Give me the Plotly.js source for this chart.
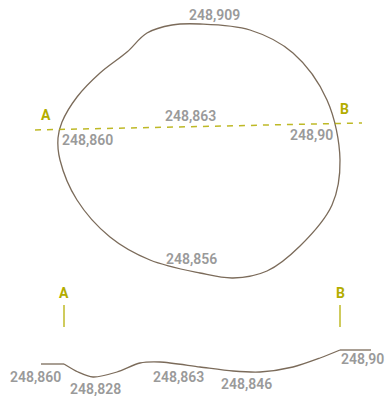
<!DOCTYPE html>
<html><head><meta charset="utf-8">
<script src="https://cdn.plot.ly/plotly-3.0.1.min.js"></script>
<style>html,body{margin:0;padding:0;background:#fff}#c{width:385px;height:396px}</style>
</head><body><div id="c"></div>
<script>
// Contour outline (plan view), drawing units
const blobX = [200,250,293,327,340,332,300,267,233,200,150,110,77,60,58,62,77,100,127,147,172,200];
const blobY = [24,30,53,100,160,205,246,271,278,273,260,237,200,160,138,122,97,73,52,33,25,24];
// Section line A-B
const secX = [35,362];
const secY = [130,123];
// Profile (section view): flat ends and curved middle
const profLeftX = [41,64], profLeftY = [364,364];
const profX = [64,78,93,117,140,160,200,233,260,293,320,340];
const profY = [364,372,377,372,363,362,367,371,372,367,358,350];
const profRightX = [340,371], profRightY = [350,350];
// Tick markers for A and B in profile
const tickAX = [64,64], tickBX = [340,340], tickY = [305,327];
// Elevation labels
const labelText = ["248,909","248,863","248,860","248,90","248,856","248,860","248,828","248,863","248,846","248,90"];
const labelX = [214,190,87,311,191,35,95,178,246,362];
const labelY = [15,116,140,135,259,377,389,377,384,359];
// Point letters
const letterText = ["A","B","A","B"];
const letterX = [46,344,64,340];
const letterY = [115,109,293,293];

const brown = '#7b6b5a', olive = '#b3ad00', grey = '#9a9a9a';
const traces = [
  {x: blobX, y: blobY, mode:'lines', line:{color:brown, width:1.3, shape:'spline', smoothing:1}, hoverinfo:'skip'},
  {x: secX, y: secY, mode:'lines', line:{color:olive, width:1.5, dash:'6px,6px'}, opacity:0.85, hoverinfo:'skip'},
  {x: profLeftX, y: profLeftY, mode:'lines', line:{color:brown, width:1.3}, hoverinfo:'skip'},
  {x: profX, y: profY, mode:'lines', line:{color:brown, width:1.3, shape:'spline', smoothing:0.8}, hoverinfo:'skip'},
  {x: profRightX, y: profRightY, mode:'lines', line:{color:brown, width:1.3}, hoverinfo:'skip'},
  {x: tickAX, y: tickY, mode:'lines', line:{color:olive, width:1.5}, opacity:0.85, hoverinfo:'skip'},
  {x: tickBX, y: tickY, mode:'lines', line:{color:olive, width:1.5}, opacity:0.85, hoverinfo:'skip'}
];
const ann = [];
labelText.forEach((t,i)=>ann.push({x:labelX[i], y:labelY[i], text:t, showarrow:false, xanchor:'center', yanchor:'middle',
  font:{family:'Roboto', size:14, color:grey, weight:600}}));
letterText.forEach((t,i)=>ann.push({x:letterX[i], y:letterY[i], text:t, showarrow:false, xanchor:'center', yanchor:'middle',
  font:{family:'Roboto', size:14, color:olive, weight:700}}));
Plotly.newPlot('c', traces, {
  width:385, height:396, margin:{l:0,r:0,t:0,b:0}, showlegend:false,
  paper_bgcolor:'#fff', plot_bgcolor:'#fff',
  xaxis:{range:[0,385], visible:false, fixedrange:true},
  yaxis:{range:[396,0], visible:false, fixedrange:true},
  annotations: ann
}, {staticPlot:true});
</script></body></html>
